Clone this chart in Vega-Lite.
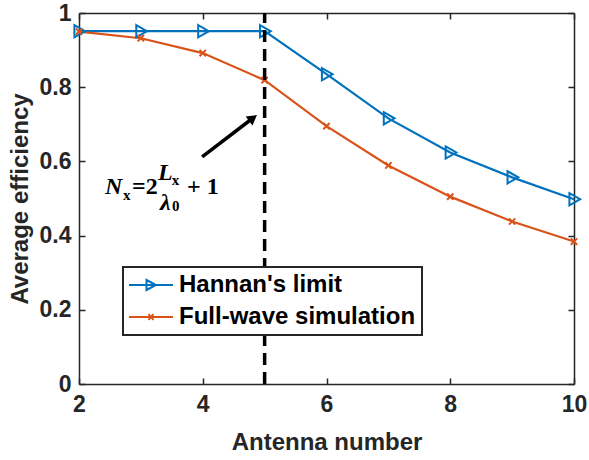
{
  "$schema": "https://vega.github.io/schema/vega-lite/v6.json",
  "autosize": "none",
  "padding": {"left": 79, "top": 13, "right": 15, "bottom": 76},
  "width": 495,
  "height": 371,
  "background": "white",
  "config": {
    "view": {"stroke": null},
    "axis": {
      "grid": false,
      "domainColor": "#262626",
      "domainWidth": 1.5,
      "tickColor": "#262626",
      "tickWidth": 1.5,
      "tickSize": -6,
      "labelFont": "Liberation Sans",
      "labelFontSize": 23,
      "labelFontWeight": "bold",
      "labelColor": "#262626",
      "titleFont": "Liberation Sans",
      "titleFontSize": 24,
      "titleFontWeight": "bold",
      "titleColor": "#262626"
    }
  },
  "datasets": {
    "curves": [
      {"n": 2, "series": "Hannan's limit", "eff": 0.951},
      {"n": 3, "series": "Hannan's limit", "eff": 0.951},
      {"n": 4, "series": "Hannan's limit", "eff": 0.951},
      {"n": 5, "series": "Hannan's limit", "eff": 0.951},
      {"n": 6, "series": "Hannan's limit", "eff": 0.835},
      {"n": 7, "series": "Hannan's limit", "eff": 0.716},
      {"n": 8, "series": "Hannan's limit", "eff": 0.624},
      {"n": 9, "series": "Hannan's limit", "eff": 0.557},
      {"n": 10, "series": "Hannan's limit", "eff": 0.498},
      {"n": 2, "series": "Full-wave simulation", "eff": 0.95},
      {"n": 3, "series": "Full-wave simulation", "eff": 0.932},
      {"n": 4, "series": "Full-wave simulation", "eff": 0.892},
      {"n": 5, "series": "Full-wave simulation", "eff": 0.819},
      {"n": 6, "series": "Full-wave simulation", "eff": 0.695},
      {"n": 7, "series": "Full-wave simulation", "eff": 0.589},
      {"n": 8, "series": "Full-wave simulation", "eff": 0.505},
      {"n": 9, "series": "Full-wave simulation", "eff": 0.438},
      {"n": 10, "series": "Full-wave simulation", "eff": 0.384}
    ],
    "italicText": [
      {"tx": 2.42, "ty": 0.512, "t": "N"},
      {"tx": 3.277, "ty": 0.55, "t": "L"},
      {"tx": 3.309, "ty": 0.469, "t": "λ"}
    ],
    "plainText": [
      {"tx": 2.857, "ty": 0.512, "t": "=2"},
      {"tx": 3.745, "ty": 0.512, "t": "+ 1"}
    ],
    "subText": [
      {"tx": 2.711, "ty": 0.496, "t": "x"},
      {"tx": 3.5, "ty": 0.536, "t": "x"},
      {"tx": 3.503, "ty": 0.466, "t": "0"}
    ],
    "arrow": [
      {"ax": 3.99, "ay": 0.612, "bx": 4.812, "by": 0.717}
    ],
    "marker": [
      {"xv": 5, "ylo": 0, "yhi": 1}
    ]
  },
  "resolve": {"axis": {"x": "independent", "y": "independent"}},
  "layer": [
    {
      "data": {"name": "curves"},
      "mark": {"type": "line", "strokeWidth": 2.2},
      "encoding": {
        "x": {
          "field": "n", "type": "quantitative",
          "scale": {"domain": [2, 10], "nice": false, "zero": false},
          "axis": {"title": "Antenna number", "values": [2, 4, 6, 8, 10], "labelPadding": 15, "titlePadding": 14, "labelFlush": false}
        },
        "y": {
          "field": "eff", "type": "quantitative",
          "scale": {"domain": [0, 1], "nice": false},
          "axis": {"title": "Average efficiency", "values": [0, 0.2, 0.4, 0.6, 0.8, 1], "format": ".1~f", "labelPadding": 14, "titlePadding": 7, "labelFlush": false}
        },
        "color": {
          "field": "series", "type": "nominal",
          "sort": ["Hannan's limit", "Full-wave simulation"],
          "scale": {"domain": ["Hannan's limit", "Full-wave simulation"], "range": ["#0072BD", "#D95319"]},
          "legend": {
            "title": null,
            "orient": "none",
            "legendX": 44,
            "legendY": 254,
            "direction": "vertical",
            "fillColor": "white",
            "strokeColor": "#262626",
            "padding": 6,
            "rowPadding": 8,
            "symbolSize": 400,
            "symbolOffset": 10,
            "labelOffset": 16,
            "labelLimit": 400,
            "labelFont": "Liberation Sans",
            "labelFontSize": 24,
            "labelFontWeight": "bold",
            "labelColor": "black",
            "symbolStrokeWidth": 2,
            "encode": {
              "legend": {
                "update": {
                  "strokeWidth": {"value": 2}
                }
              },
              "symbols": {
                "update": {
                  "shape": {"signal": "datum.value === 'Hannan\\'s limit' ? 'M-2.2,0H2.2M-0.45,-0.5L0.5,0L-0.45,0.5Z' : 'M-2.2,0H2.2M-0.25,-0.28L0.25,0.28M-0.25,0.28L0.25,-0.28'"},
                  "fill": {"value": "transparent"},
                  "strokeWidth": {"value": 2},
                  "opacity": {"value": 1}
                }
              }
            }
          }
        }
      }
    },
    {
      "data": {"name": "curves"},
      "transform": [{"filter": "datum.series === 'Hannan\\'s limit'"}],
      "mark": {"type": "point", "filled": false, "strokeWidth": 2, "opacity": 1, "color": "#0072BD", "shape": "M-0.75,-1L1,0L-0.75,1Z", "size": 150},
      "encoding": {
        "x": {"field": "n", "type": "quantitative", "axis": null},
        "y": {"field": "eff", "type": "quantitative", "axis": null}
      }
    },
    {
      "data": {"name": "curves"},
      "transform": [{"filter": "datum.series === 'Full-wave simulation'"}],
      "mark": {"type": "point", "filled": false, "strokeWidth": 2, "opacity": 1, "color": "#D95319", "shape": "M-1,-1L1,1M-1,1L1,-1", "size": 40},
      "encoding": {
        "x": {"field": "n", "type": "quantitative", "axis": null},
        "y": {"field": "eff", "type": "quantitative", "axis": null}
      }
    },
    {
      "data": {"name": "marker"},
      "mark": {"type": "rule", "color": "black", "strokeWidth": 3.5, "strokeDash": [12, 7]},
      "encoding": {
        "x": {"field": "xv", "type": "quantitative", "axis": {"orient": "top", "labels": false, "title": null, "values": [2, 4, 6, 8, 10]}},
        "y": {"field": "ylo", "type": "quantitative", "axis": {"orient": "right", "labels": false, "title": null, "values": [0, 0.2, 0.4, 0.6, 0.8, 1]}},
        "y2": {"field": "yhi"}
      }
    },
    {
      "data": {"name": "arrow"},
      "mark": {"type": "rule", "color": "black", "strokeWidth": 3.5},
      "encoding": {
        "x": {"field": "ax", "type": "quantitative", "axis": null},
        "y": {"field": "ay", "type": "quantitative", "axis": null},
        "x2": {"field": "bx"},
        "y2": {"field": "by"}
      }
    },
    {
      "data": {"name": "arrow"},
      "mark": {"type": "point", "shape": "triangle-up", "filled": true, "color": "black", "size": 130, "angle": 53, "opacity": 1},
      "encoding": {
        "x": {"field": "bx", "type": "quantitative", "axis": null},
        "y": {"field": "by", "type": "quantitative", "axis": null}
      }
    },
    {
      "data": {"name": "italicText"},
      "mark": {"type": "text", "font": "Liberation Serif", "fontSize": 24, "fontStyle": "italic", "fontWeight": "bold", "align": "left", "baseline": "alphabetic", "color": "black"},
      "encoding": {
        "x": {"field": "tx", "type": "quantitative", "axis": null},
        "y": {"field": "ty", "type": "quantitative", "axis": null},
        "text": {"field": "t"}
      }
    },
    {
      "data": {"name": "plainText"},
      "mark": {"type": "text", "font": "Liberation Serif", "fontSize": 24, "fontWeight": "bold", "align": "left", "baseline": "alphabetic", "color": "black"},
      "encoding": {
        "x": {"field": "tx", "type": "quantitative", "axis": null},
        "y": {"field": "ty", "type": "quantitative", "axis": null},
        "text": {"field": "t"}
      }
    },
    {
      "data": {"name": "subText"},
      "mark": {"type": "text", "font": "Liberation Serif", "fontSize": 15, "fontWeight": "bold", "align": "left", "baseline": "alphabetic", "color": "black"},
      "encoding": {
        "x": {"field": "tx", "type": "quantitative", "axis": null},
        "y": {"field": "ty", "type": "quantitative", "axis": null},
        "text": {"field": "t"}
      }
    }
  ]
}
